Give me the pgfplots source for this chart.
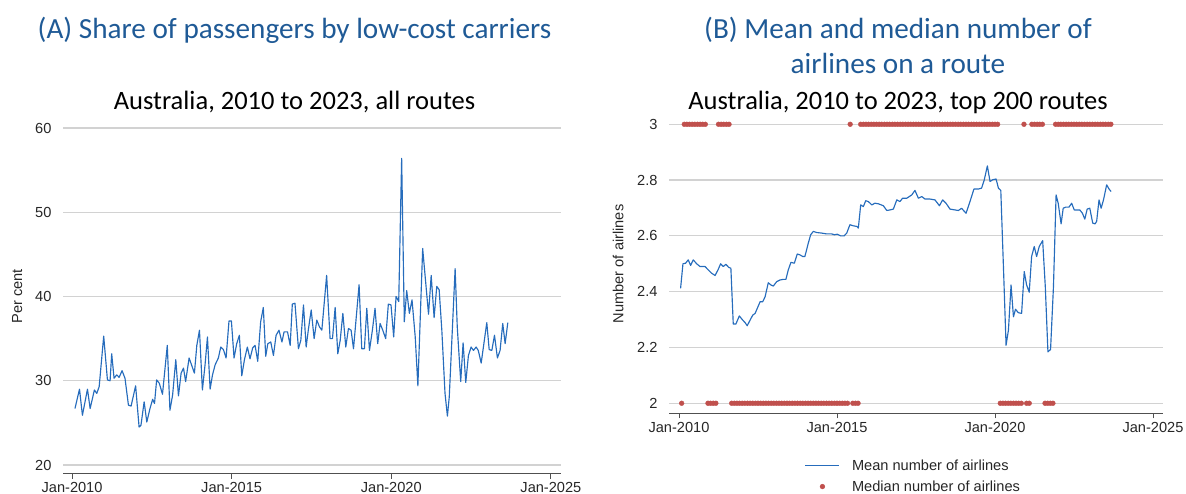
\documentclass[border=0pt]{standalone}
\usepackage{fontspec}
\setmainfont{Liberation Sans}
\newfontfamily\calib{Carlito}
\usepackage{pgfplots}
\pgfplotsset{compat=1.18}
\definecolor{ttl}{RGB}{31,90,150}
\definecolor{ln}{RGB}{38,108,188}
\definecolor{dotc}{RGB}{192,80,77}
\definecolor{grd}{RGB}{210,210,210}
\definecolor{axc}{RGB}{80,80,80}
\newcommand{\tf}{\fontsize{14.6}{16}\selectfont}
\pgfplotsset{mystyle/.style={
  scale only axis,
  axis x line*=bottom, axis y line*=left,
  y axis line style={draw=none},
  x axis line style={draw=axc, line width=1pt, -},
  xtick={0,60,120,180},
  xticklabels={Jan-2010,Jan-2015,Jan-2020,Jan-2025},
  tick align=outside,
  major tick length=5pt,
  xtick style={draw=axc, line width=1pt},
  ytick style={draw=none},
  ymajorgrids,
  major grid style={grd, line width=1.2pt},
  tick label style={font=\tf, text=black!85},
  yticklabel style={xshift=-3pt},
  /pgf/number format/assume math mode=true,
}}
\begin{document}
\begin{tikzpicture}[x=1pt,y=1pt]
\useasboundingbox (0,0) rectangle (1186,494);
% titles
\node[font=\calib\fontsize{29.2}{31}\selectfont, text=ttl, anchor=base] at (294.5,455) {(A) Share of passengers by low-cost carriers};
\node[font=\calib\fontsize{29.2}{31}\selectfont, text=ttl, anchor=base] at (898,455) {(B) Mean and median number of};
\node[font=\calib\fontsize{29.2}{31}\selectfont, text=ttl, anchor=base] at (898,420) {airlines on a route};
\node[font=\calib\fontsize{26.5}{28}\selectfont, anchor=base] at (294.5,384) {Australia, 2010 to 2023, all routes};
\node[font=\calib\fontsize{26.5}{28}\selectfont, anchor=base] at (898,384) {Australia, 2010 to 2023, top 200 routes};

\begin{axis}[mystyle,
  at={(63pt,20pt)}, anchor=south west,
  width=498pt, height=348.5pt,
  xmin=-3.4, xmax=183.8,
  ymin=18.93, ymax=60.3,
  ytick={20,30,40,50,60},
  ylabel={Per cent},
  every axis y label/.style={at={(axis description cs:-0.092,0.51)}, rotate=90, anchor=center, font=\tf, text=black!85},
]
\addplot[ln, line width=1.15pt, line join=round] coordinates {
(1.1,26.7)(2.8,29.0)(3.9,25.9)(5.8,29.0)(6.8,26.7)(8.4,28.9)(9.3,28.5)(10.2,29.3)(11.9,35.3)(13.3,30.1)(14.3,30.0)(14.9,33.2)(15.8,30.3)(16.8,30.7)(17.7,30.4)(18.8,31.2)(19.9,30.3)(21.2,27.1)(22.2,27.0)(23.9,29.4)(25.2,24.5)(25.9,24.7)(27.1,27.5)(28.1,25.1)(29.3,26.7)(30.3,27.8)(31.0,27.3)(31.8,30.1)(32.8,29.7)(34.0,28.4)(35.8,34.2)(36.8,26.5)(37.8,28.3)(39.0,32.5)(40.0,28.2)(41.0,30.9)(41.9,31.5)(42.7,29.9)(44.0,32.7)(44.9,31.9)(46.0,30.9)(46.9,34.2)(47.9,36.0)(49.0,28.9)(50.0,31.9)(50.9,35.2)(51.9,29.0)(52.8,30.7)(53.8,31.9)(55.0,32.7)(55.9,34.0)(56.9,33.7)(57.9,32.7)(59.0,37.1)(59.9,37.1)(60.9,32.7)(61.9,34.4)(62.9,35.4)(63.8,30.6)(64.8,32.5)(65.9,34.0)(66.9,32.6)(67.9,33.9)(68.8,34.2)(69.8,32.3)(70.9,37.0)(71.9,38.7)(72.8,32.9)(73.6,34.4)(74.7,34.6)(75.7,33.0)(76.7,35.4)(77.8,36.0)(78.9,34.6)(79.7,35.8)(81.0,35.8)(82.0,34.2)(82.8,39.1)(83.8,39.2)(85.1,33.8)(86.0,34.8)(87.0,39.0)(88.0,34.0)(88.8,36.0)(89.9,38.4)(91.0,35.0)(92.0,37.2)(93.0,36.4)(93.9,36.0)(95.7,42.5)(97.0,35.0)(97.9,35.0)(98.9,38.7)(99.9,33.2)(100.8,34.8)(101.8,38.0)(102.9,34.0)(103.9,36.2)(104.9,36.0)(105.8,33.8)(107.9,41.4)(108.9,33.8)(109.9,33.8)(110.8,38.6)(111.8,33.6)(112.9,36.0)(113.9,38.6)(114.9,34.4)(115.8,36.8)(116.8,36.0)(117.9,35.0)(118.9,39.1)(119.9,39.0)(120.9,35.2)(121.8,40.0)(122.8,39.4)(123.9,56.4)(124.9,37.0)(125.8,40.7)(126.8,38.0)(127.8,39.6)(129.0,35.2)(130.0,29.4)(131.8,45.7)(134.0,37.9)(135.0,42.5)(136.1,37.5)(137.1,41.2)(138.0,40.8)(139.0,36.0)(140.2,28.5)(141.1,25.8)(141.8,28.1)(144.0,43.3)(144.8,36.4)(146.1,29.9)(147.0,34.5)(148.0,29.8)(149.0,33.0)(150.0,34.0)(150.9,33.6)(151.9,34.0)(152.7,33.6)(153.8,32.1)(155.9,36.9)(156.8,33.7)(157.8,33.6)(158.8,35.4)(159.9,32.7)(160.9,33.6)(161.9,36.8)(162.8,34.4)(163.8,36.9)
};
\end{axis}

\begin{axis}[mystyle,
  at={(669pt,80.7pt)}, anchor=south west,
  width=494pt, height=291.8pt,
  xmin=-3.8, xmax=183.8,
  ymin=1.964, ymax=3.01,
  ytick={2,2.2,2.4,2.6,2.8,3},
  yticklabels={2,2.2,2.4,2.6,2.8,3},
  ylabel={Number of airlines},
  every axis y label/.style={at={(axis description cs:-0.103,0.512)}, rotate=90, anchor=center, font=\tf, text=black!85},
  legend style={at={(axis description cs:0.275,-0.150)}, anchor=north west, draw=none, fill=none,
    inner sep=0pt, outer sep=0pt, font=\tf, text=black!85, row sep=4pt,
    nodes={inner sep=2pt, text height=11pt, text depth=2pt},
    /tikz/every odd column/.append style={column sep=10pt}},
  legend cell align=left,
  legend image code/.code={\draw[mark repeat=2,mark phase=2,#1] plot coordinates {(0pt,0pt)(17pt,0pt)(34pt,0pt)};},
]
\addplot[ln, line width=1.15pt, line join=round] coordinates {
(0.6,2.412)(1.5,2.50)(2.5,2.502)(3.5,2.514)(4.4,2.494)(5.4,2.514)(6.7,2.50)(8.0,2.49)(9.9,2.49)(11.1,2.478)(12.4,2.466)(13.7,2.458)(14.9,2.48)(15.8,2.50)(16.8,2.49)(17.8,2.498)(18.9,2.487)(19.7,2.484)(20.6,2.284)(21.6,2.284)(22.9,2.313)(24.2,2.298)(25.1,2.289)(25.9,2.278)(27.0,2.298)(28.0,2.316)(28.9,2.322)(29.9,2.344)(30.8,2.364)(31.8,2.364)(32.7,2.382)(33.9,2.432)(34.9,2.424)(35.8,2.42)(37.1,2.436)(38.4,2.442)(39.6,2.444)(40.6,2.444)(41.5,2.478)(42.5,2.505)(43.8,2.502)(44.9,2.535)(45.9,2.532)(47.0,2.526)(47.8,2.526)(49.1,2.574)(50.0,2.604)(51.0,2.616)(52.3,2.612)(54.2,2.61)(56.1,2.607)(58.0,2.607)(59.0,2.604)(60.1,2.606)(61.4,2.60)(62.7,2.60)(63.7,2.61)(64.9,2.64)(66.2,2.636)(67.5,2.634)(68.1,2.628)(69.0,2.711)(70.0,2.705)(70.9,2.726)(71.9,2.723)(73.2,2.711)(74.4,2.717)(75.7,2.715)(77.6,2.708)(78.9,2.691)(80.1,2.693)(81.4,2.696)(82.7,2.729)(83.9,2.723)(84.9,2.735)(86.5,2.735)(88.4,2.747)(89.6,2.763)(90.9,2.735)(92.2,2.741)(93.4,2.732)(95.3,2.732)(97.2,2.729)(98.9,2.708)(100.1,2.729)(101.4,2.717)(102.9,2.696)(104.8,2.693)(106.1,2.691)(107.3,2.699)(109.0,2.681)(110.5,2.723)(112.0,2.768)(113.7,2.768)(114.9,2.771)(115.9,2.80)(117.1,2.851)(118.1,2.795)(119.1,2.801)(120.4,2.804)(121.3,2.771)(122.2,2.763)(123.2,2.49)(124.2,2.208)(125.1,2.262)(126.1,2.424)(127.0,2.31)(127.8,2.337)(128.8,2.325)(130.1,2.322)(131.1,2.472)(132.0,2.424)(133.0,2.398)(133.9,2.526)(134.9,2.562)(135.8,2.526)(136.8,2.562)(138.1,2.583)(139.1,2.418)(140.1,2.184)(141.1,2.193)(142.2,2.418)(143.2,2.747)(144.0,2.717)(145.1,2.643)(145.9,2.699)(146.8,2.703)(148.1,2.703)(149.1,2.717)(150.1,2.693)(151.2,2.693)(152.2,2.693)(153.2,2.681)(154.1,2.66)(155.0,2.696)(156.0,2.699)(157.1,2.646)(158.0,2.643)(158.6,2.652)(159.5,2.729)(160.3,2.699)(161.2,2.729)(162.4,2.783)(163.3,2.768)(164.1,2.759)
};
\addlegendentry{Mean number of airlines}
\addplot[only marks, mark=*, mark size=2.4pt, color=dotc, mark options={draw=dotc, fill=dotc}] coordinates {
(1,2)(2,3)(3,3)(4,3)(5,3)(6,3)(7,3)(8,3)(9,3)(10,3)
(11,2)(12,2)(13,2)(14,2)(15,3)(16,3)(17,3)(18,3)(19,3)
(20,2)(21,2)(22,2)(23,2)(24,2)(25,2)(26,2)(27,2)(28,2)(29,2)(30,2)(31,2)(32,2)(33,2)(34,2)(35,2)(36,2)(37,2)(38,2)(39,2)(40,2)(41,2)(42,2)(43,2)(44,2)(45,2)(46,2)(47,2)(48,2)(49,2)(50,2)(51,2)(52,2)(53,2)(54,2)(55,2)(56,2)(57,2)(58,2)(59,2)(60,2)(61,2)(62,2)(63,2)(64,2)
(65,3)(66,2)(67,2)(68,2)
(69,3)(70,3)(71,3)(72,3)(73,3)(74,3)(75,3)(76,3)(77,3)(78,3)(79,3)(80,3)(81,3)(82,3)(83,3)(84,3)(85,3)(86,3)(87,3)(88,3)(89,3)(90,3)(91,3)(92,3)(93,3)(94,3)(95,3)(96,3)(97,3)(98,3)(99,3)(100,3)(101,3)(102,3)(103,3)(104,3)(105,3)(106,3)(107,3)(108,3)(109,3)(110,3)(111,3)(112,3)(113,3)(114,3)(115,3)(116,3)(117,3)(118,3)(119,3)(120,3)(121,3)
(122,2)(123,2)(124,2)(125,2)(126,2)(127,2)(128,2)(129,2)(130,2)
(131,3)(132,2)(133,2)(134,3)(135,3)(136,3)(137,3)(138,3)
(139,2)(140,2)(141,2)(142,2)
(143,3)(144,3)(145,3)(146,3)(147,3)(148,3)(149,3)(150,3)(151,3)(152,3)(153,3)(154,3)(155,3)(156,3)(157,3)(158,3)(159,3)(160,3)(161,3)(162,3)(163,3)(164,3)
};
\addlegendentry{Median number of airlines}
\end{axis}
\end{tikzpicture}
\end{document}
